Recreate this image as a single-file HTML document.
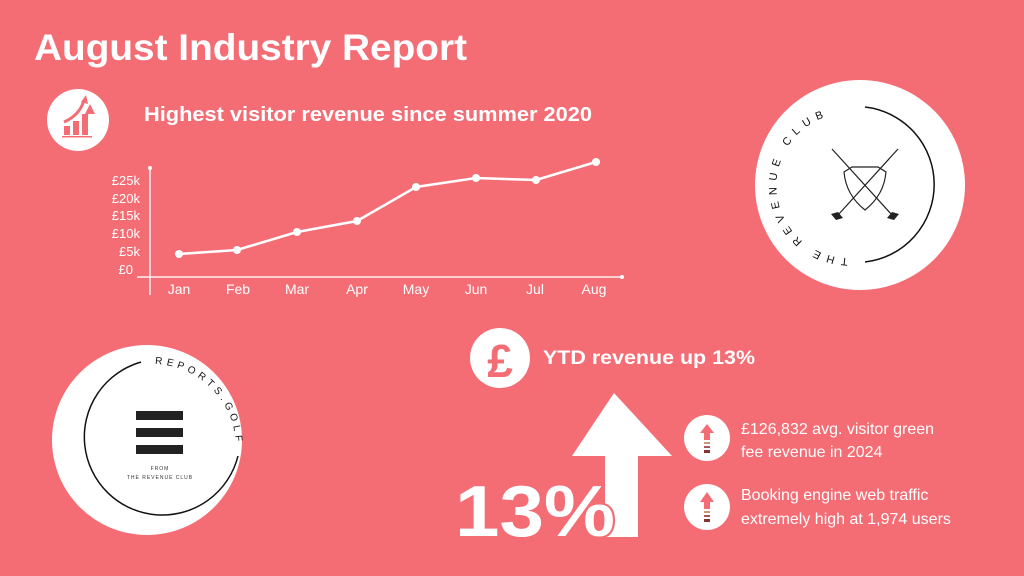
<!DOCTYPE html>
<html><head><meta charset="utf-8"><style>
html,body{margin:0;padding:0;background:#F46D75;}
svg{display:block;font-family:"Liberation Sans",sans-serif;}
</style></head><body>
<svg width="1024" height="576" viewBox="0 0 1024 576">
<rect width="1024" height="576" fill="#F46D75"/>
<text x="34" y="60" font-size="37" font-weight="bold" fill="#fff" textLength="433" lengthAdjust="spacingAndGlyphs">August Industry Report</text>
<circle cx="78" cy="120" r="31" fill="#fff"/>
<g fill="#F46D75">
<rect x="64" y="126" width="6" height="9"/><rect x="73" y="121" width="6" height="14"/><rect x="82" y="114" width="6" height="21"/>
<rect x="62" y="136" width="30" height="1.5"/>
<polygon points="85,114 90,104 95,114"/>
<path d="M64 122 Q80 115 84 100" stroke="#F46D75" stroke-width="3" fill="none"/>
<polygon points="81,102 86,95 88,104"/>
</g>
<text x="144" y="121" font-size="20" font-weight="bold" fill="#fff" textLength="448" lengthAdjust="spacingAndGlyphs">Highest visitor revenue since summer 2020</text>
<g stroke="#fff" stroke-width="1.5" opacity="0.9">
<line x1="150" y1="168" x2="150" y2="295"/>
<line x1="137" y1="277" x2="622" y2="277"/>
</g>
<circle cx="150" cy="168" r="2" fill="#fff"/><circle cx="622" cy="277" r="2" fill="#fff"/>
<g fill="#fff" font-size="13" text-anchor="end">
<text x="140" y="185">£25k</text><text x="140" y="203">£20k</text><text x="140" y="220">£15k</text>
<text x="140" y="238">£10k</text><text x="140" y="256">£5k</text><text x="133" y="274">£0</text>
</g>
<g fill="#fff" font-size="14" text-anchor="middle">
<text x="179" y="294">Jan</text><text x="238" y="294">Feb</text><text x="297" y="294">Mar</text><text x="357" y="294">Apr</text>
<text x="416" y="294">May</text><text x="476" y="294">Jun</text><text x="535" y="294">Jul</text><text x="594" y="294">Aug</text>
</g>
<polyline points="179,254 237,250 297,232 357,221 416,187 476,178 536,180 596,162" fill="none" stroke="#fff" stroke-width="2.5"/>
<g fill="#fff">
<circle cx="179" cy="254" r="4"/><circle cx="237" cy="250" r="4"/><circle cx="297" cy="232" r="4"/><circle cx="357" cy="221" r="4"/>
<circle cx="416" cy="187" r="4"/><circle cx="476" cy="178" r="4"/><circle cx="536" cy="180" r="4"/><circle cx="596" cy="162" r="4"/>
</g>
<circle cx="860" cy="185" r="105" fill="#fff"/>
<path d="M865 107 A78 78 0 0 1 865 262" fill="none" stroke="#111" stroke-width="1.5"/>
<defs>
<path id="arcL" d="M848 258 A72 72 0 0 1 850 113"/>
<path id="arcB" d="M155 364 A84 84 0 0 1 236 452"/>
</defs>
<text font-size="11" fill="#111" letter-spacing="6"><textPath href="#arcL">THE REVENUE CLUB</textPath></text>
<g stroke="#222" stroke-width="1.2" fill="none">
<line x1="832" y1="149" x2="892" y2="215"/><line x1="898" y1="149" x2="838" y2="215"/>
<path d="M844 172 L852 167 L878 167 L886 172 Q884 195 865 210 Q846 195 844 172 Z"/>
</g>
<g fill="#222"><polygon points="831,214 838,212 843,218 836,220"/><polygon points="899,214 892,212 887,218 894,220"/></g>
<circle cx="147" cy="440" r="95" fill="#fff"/>
<path d="M141 362 A78 78 0 1 0 238 456" fill="none" stroke="#111" stroke-width="1.5"/>
<text font-size="10" fill="#111" letter-spacing="4"><textPath href="#arcB">REPORTS.GOLF</textPath></text>
<g fill="#222"><rect x="136" y="411" width="47" height="9"/><rect x="136" y="428" width="47" height="9"/><rect x="136" y="445" width="47" height="9"/></g>
<text x="160" y="470" font-size="5" fill="#333" text-anchor="middle" letter-spacing="1">FROM</text>
<text x="160" y="479" font-size="5" fill="#333" text-anchor="middle" letter-spacing="1">THE REVENUE CLUB</text>
<circle cx="500" cy="358" r="30" fill="#fff"/>
<text x="500" y="377" font-size="46" font-weight="bold" fill="#F46D75" text-anchor="middle">£</text>
<text x="543" y="364" font-size="19" font-weight="bold" fill="#fff" textLength="212" lengthAdjust="spacingAndGlyphs">YTD revenue up 13%</text>
<polygon points="614,393 672,456 638,456 638,537 605,537 605,456 572,456" fill="#fff"/>
<text x="455" y="536" font-size="72" font-weight="bold" fill="#fff" stroke="#F46D75" stroke-width="4" paint-order="stroke" textLength="160" lengthAdjust="spacingAndGlyphs">13%</text>
<g>
<circle cx="707" cy="438" r="23" fill="#fff"/>
<polygon points="707,424 714,433 710,433 710,440 704,440 704,433 700,433" fill="#F46D75"/>
<rect x="704" y="442" width="6" height="2" fill="#c97"/><rect x="704" y="446" width="6" height="2" fill="#a55"/><rect x="704" y="450" width="6" height="3" fill="#833"/>
<circle cx="707" cy="507" r="23" fill="#fff"/>
<polygon points="707,492 714,502 710,502 710,509 704,509 704,502 700,502" fill="#F46D75"/>
<rect x="704" y="511" width="6" height="2" fill="#c97"/><rect x="704" y="515" width="6" height="2" fill="#a55"/><rect x="704" y="519" width="6" height="3" fill="#833"/>
</g>
<g fill="#fff" font-size="16">
<text x="741" y="434">£126,832 avg. visitor green</text>
<text x="741" y="457">fee revenue in 2024</text>
<text x="741" y="500">Booking engine web traffic</text>
<text x="741" y="524">extremely high at 1,974 users</text>
</g>
</svg>
</body></html>
